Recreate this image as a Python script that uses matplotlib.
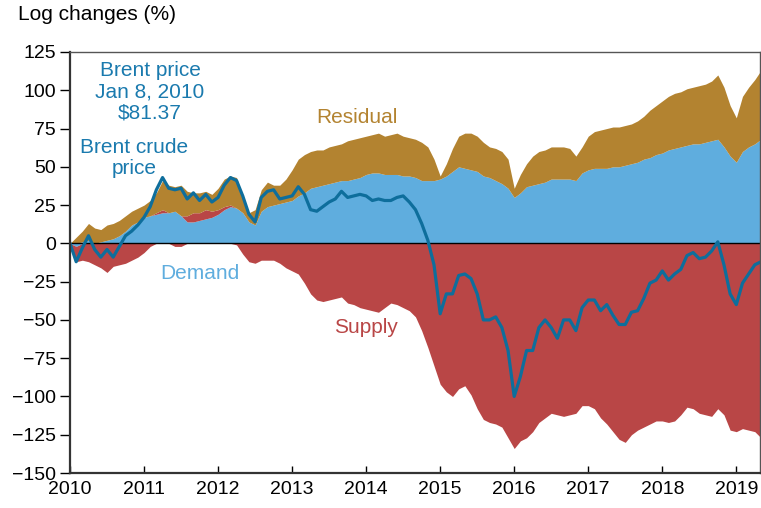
import numpy as np
import matplotlib
matplotlib.use('Agg')
import matplotlib.pyplot as plt

plt.rcParams['font.family'] = ['Liberation Sans', 'DejaVu Sans']

# monthly readings, Jan 2010 .. Apr 2019 (log changes, %)
demand = [0, -2, 1, 2, 0, 1, 2, 3, 5, 8, 12, 14,
          17, 18, 19, 20, 20, 21, 18, 14, 14, 15, 16, 17,
          19, 22, 24, 23, 20, 14, 12, 21, 24, 25, 26, 27,
          28, 31, 33, 36, 37, 38, 39, 40, 41, 41, 42, 43,
          45, 46, 46, 45, 45, 45, 44, 44, 43, 41, 41, 41,
          42, 44, 47, 50, 49, 48, 47, 44, 43, 41, 39, 36,
          30, 33, 37, 38, 39, 40, 42, 42, 42, 42, 41, 46,
          48, 49, 49, 49, 50, 50, 51, 52, 53, 55, 56, 58,
          59, 61, 62, 63, 64, 65, 65, 66, 67, 68, 63, 57,
          53, 60, 63, 65, 68]
supply = [0, -10, -11, -12, -14, -16, -19, -15, -14, -13, -11, -9,
          -6, -2, 1, 2, 0, -2, -2, 4, 6, 5, 6, 4,
          3, 2, 1, -1, -7, -12, -13, -11, -11, -11, -13, -16,
          -18, -20, -26, -33, -37, -38, -37, -36, -35, -39, -40, -42,
          -43, -44, -45, -42, -39, -40, -42, -44, -48, -57, -68, -80,
          -92, -97, -100, -95, -93, -99, -108, -115, -117, -118, -120, -127,
          -134, -129, -127, -123, -117, -114, -111, -112, -113, -112, -111, -106,
          -106, -108, -114, -118, -123, -128, -130, -125, -122, -120, -118, -116,
          -116, -117, -116, -112, -107, -108, -111, -112, -113, -108, -112, -122,
          -123, -121, -122, -123, -127]
residual = [0, 4, 7, 11, 10, 8, 10, 10, 10, 10, 9, 9,
            8, 10, 13, 19, 18, 16, 20, 16, 13, 13, 12, 11,
            14, 18, 19, 20, 10, 6, 10, 14, 16, 13, 12, 15,
            20, 24, 25, 24, 24, 23, 24, 24, 24, 26, 26, 26,
            25, 25, 26, 25, 26, 27, 26, 25, 25, 25, 22, 14,
            2, 8, 15, 20, 23, 24, 23, 22, 20, 21, 21, 19,
            6, 12, 15, 19, 21, 21, 21, 21, 21, 20, 16, 17,
            22, 24, 25, 26, 26, 26, 26, 26, 27, 28, 31, 32,
            34, 35, 36, 36, 37, 37, 38, 38, 39, 42, 39, 33,
            29, 36, 39, 42, 45]
brent = [0, -12, -3, 5, -4, -9, -4, -9, -2, 5, 8, 12,
         17, 24, 35, 43, 36, 35, 36, 29, 33, 28, 32, 27,
         30, 38, 43, 41, 31, 19, 14, 30, 34, 35, 29, 30,
         31, 37, 32, 22, 21, 24, 27, 29, 34, 30, 31, 32,
         31, 28, 29, 28, 28, 30, 31, 27, 22, 13, 2, -14,
         -46, -33, -33, -21, -20, -23, -33, -50, -50, -48, -55, -70,
         -100, -87, -70, -70, -55, -50, -55, -62, -50, -50, -57, -42,
         -37, -37, -44, -40, -47, -53, -53, -45, -44, -36, -26, -24,
         -18, -24, -20, -17, -8, -6, -10, -9, -5, 1, -14, -33,
         -40, -26, -20, -14, -12]

years = [2010, 2011, 2012, 2013, 2014, 2015, 2016, 2017, 2018, 2019]
yticks = [125, 100, 75, 50, 25, 0, -25, -50, -75, -100, -125, -150]

c_dem = '#5FADDE'
c_sup = '#B94646'
c_res = '#B38330'
c_price = '#0E6E9C'
c_note = '#1a7aae'

t = 2010 + np.arange(len(demand)) / 12.0
comps = [(np.array(demand, float), c_dem),
         (np.array(supply, float), c_sup),
         (np.array(residual, float), c_res)]

fig = plt.figure(figsize=(7.61, 5.08), dpi=100)
ax = fig.add_axes([70/761, 1 - 473/508, 690/761, 421/508])

pos_base = np.zeros(len(t))
neg_base = np.zeros(len(t))
for vals, col in comps:
    p = np.clip(vals, 0, None)
    n = np.clip(vals, None, 0)
    ax.fill_between(t, pos_base, pos_base + p, color=col, lw=0)
    ax.fill_between(t, neg_base, neg_base + n, color=col, lw=0)
    pos_base = pos_base + p
    neg_base = neg_base + n

ax.axhline(0, color='black', lw=1)
ax.plot(t, brent, color=c_price, lw=2.3)

ax.set_xlim(2010, 2019.32)
ax.set_ylim(-150, 125)
ax.set_xticks(years)
ax.set_xticklabels([str(y) for y in years])
ax.set_yticks(yticks)
ax.tick_params(axis='y', direction='out', length=7, width=1, labelsize=14, pad=3)
ax.tick_params(axis='x', direction='in', length=5, width=1, labelsize=14, pad=6)

for s in ['left', 'bottom']:
    ax.spines[s].set_color('#333333')
    ax.spines[s].set_linewidth(1.6)
for s in ['top', 'right']:
    ax.spines[s].set_color('#555555')
    ax.spines[s].set_linewidth(1)

fig.text(18/761, 1 - 15/508, 'Log changes (%)', fontsize=15, va='center', ha='left')

ax.text(2011.08, 99, 'Brent price\nJan 8, 2010\n$81.37', color=c_note,
        fontsize=15, ha='center', va='center', linespacing=1.15)
ax.text(2010.87, 56, 'Brent crude\nprice', color=c_note,
        fontsize=15, ha='center', va='center', linespacing=1.15)
ax.text(2013.88, 82, 'Residual', color=c_res, fontsize=15, ha='center', va='center')
ax.text(2011.76, -20, 'Demand', color=c_dem, fontsize=15, ha='center', va='center')
ax.text(2014.0, -55, 'Supply', color=c_sup, fontsize=15, ha='center', va='center')

fig.savefig('out.png', dpi=100)
